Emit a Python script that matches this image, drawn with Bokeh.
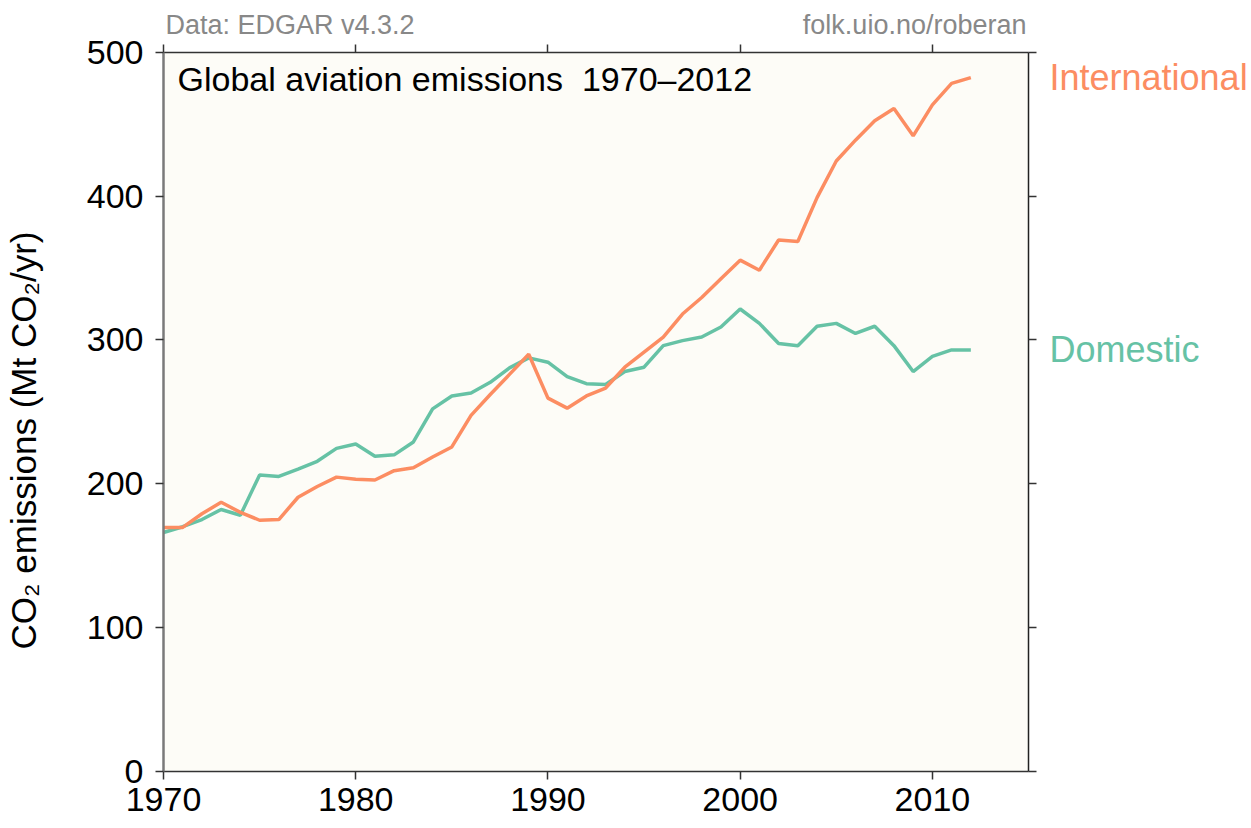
import math
from bokeh.plotting import figure
from bokeh.models import Range1d, LinearAxis, Label, FixedTicker, BoxAnnotation
from bokeh.embed import file_html
from bokeh.resources import INLINE

years = list(range(1970, 2013))
domestic = [166, 170, 175, 182, 178, 206, 205, 210, 215.5, 224.5,
            227.5, 219, 220, 229, 252, 261, 263, 270.5, 280.5, 287.5,
            284.5, 274.5, 269.5, 269, 278, 281, 296, 299.5, 302, 309,
            321.5, 311.5, 297.5, 296, 309.5, 311.5, 304.5, 309.5, 296, 278,
            288.5, 293, 293]
international = [169.5, 169.5, 179, 187, 180, 174.5, 175, 190.5, 198, 204.5,
                 203, 202.5, 209, 211, 218.5, 225.5, 247.5, 262, 276, 290,
                 259.5, 252.5, 261, 266.5, 281, 291.5, 302, 318, 329.5, 342.5,
                 355.5, 348.5, 369.5, 368.5, 399, 424.5, 439, 452.5, 461, 442,
                 463.5, 478.5, 482.5]
x_ticks = [1970, 1980, 1990, 2000, 2010]
y_ticks = [0, 100, 200, 300, 400, 500]
x_lim = (1970, 2015)
y_lim = (0, 500)

FONT = "Liberation Sans"
ORANGE = "#FC8D62"
TEAL = "#66C2A5"

# pixel layout of the plotting box inside the canvas
W, H = 1251, 827
L, R, T, B = 163, 1028, 52, 770.5
ppx = (R - L) / (x_lim[1] - x_lim[0])
ppy = (B - T) / (y_lim[1] - y_lim[0])
x_range = Range1d(x_lim[0] - L / ppx, x_lim[1] + (W - R) / ppx)
y_range = Range1d(y_lim[0] - (H - B) / ppy, y_lim[1] + T / ppy)

p = figure(width=W, height=H, x_range=x_range, y_range=y_range,
           output_backend="svg", toolbar_location=None,
           min_border=0, min_border_left=0, min_border_right=0,
           min_border_top=0, min_border_bottom=0,
           background_fill_color="white", border_fill_color="white",
           outline_line_color=None)
p.xgrid.visible = False
p.ygrid.visible = False

p.add_layout(BoxAnnotation(left=x_lim[0], right=x_lim[1], bottom=y_lim[0], top=y_lim[1],
                           fill_color="#FDFCF7", fill_alpha=1.0, line_color=None,
                           level="underlay"))

def style_axis(ax, ticks, color, width, bounds, loc, show_labels=True):
    ax.ticker = FixedTicker(ticks=ticks)
    ax.bounds = bounds
    ax.fixed_location = loc
    ax.axis_line_color = color
    ax.axis_line_width = width
    ax.major_tick_line_color = "#333333"
    ax.major_tick_line_width = 1.5
    ax.major_tick_in = 0
    ax.major_tick_out = 8
    ax.minor_tick_in = 0
    ax.minor_tick_out = 0
    if show_labels:
        ax.major_label_text_font = FONT
        ax.major_label_text_font_size = "34px"
        ax.major_label_text_color = "black"
    else:
        ax.major_label_text_font_size = "1px"
        ax.major_label_text_alpha = 0
        ax.major_label_standoff = 0

style_axis(p.xaxis[0], x_ticks, "#333333", 1.5, x_lim, y_lim[0])
p.xaxis[0].major_label_standoff = 9
style_axis(p.yaxis[0], y_ticks, "#7a7a7a", 2.5, y_lim, x_lim[0])
p.yaxis[0].major_label_standoff = 12

top = LinearAxis()
style_axis(top, x_ticks, "#333333", 1.5, x_lim, y_lim[1], show_labels=False)
p.add_layout(top, "above")
right = LinearAxis()
style_axis(right, y_ticks, "#222222", 1.5, y_lim, x_lim[1], show_labels=False)
p.add_layout(right, "right")

p.line(years, domestic, line_color=TEAL, line_width=3.5)
p.line(years, international, line_color=ORANGE, line_width=3.5)

p.add_layout(Label(x=x_lim[0], y=230, x_offset=-140, angle=math.pi / 2,
                   text="CO\u2082 emissions (Mt CO\u2082/yr)", text_font=FONT,
                   text_font_size="35px", text_color="black",
                   text_align="center", text_baseline="middle"))
p.add_layout(Label(x=x_lim[0], y=y_lim[1], x_offset=14, y_offset=-26,
                   text="Global aviation emissions\u00a0 1970\u20132012",
                   text_font=FONT, text_font_size="34px", text_color="black",
                   text_baseline="alphabetic"))
p.add_layout(Label(x=x_lim[0], y=y_lim[1], x_offset=2, y_offset=28,
                   text="Data: EDGAR v4.3.2", text_font=FONT,
                   text_font_size="27px", text_color="#888888",
                   text_baseline="alphabetic"))
p.add_layout(Label(x=x_lim[1], y=y_lim[1], x_offset=-2, y_offset=28,
                   text="folk.uio.no/roberan", text_font=FONT,
                   text_font_size="27px", text_color="#888888",
                   text_baseline="alphabetic", text_align="right"))
p.add_layout(Label(x=x_lim[1], y=international[-1], x_offset=21,
                   text="International", text_font=FONT,
                   text_font_size="36px", text_color=ORANGE,
                   text_baseline="middle"))
p.add_layout(Label(x=x_lim[1], y=domestic[-1], x_offset=21,
                   text="Domestic", text_font=FONT,
                   text_font_size="36px", text_color=TEAL,
                   text_baseline="middle"))

open("out.html", "w").write(file_html(p, INLINE))
